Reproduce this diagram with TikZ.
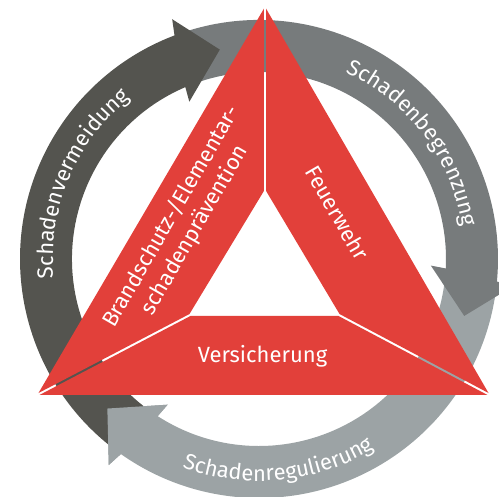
\documentclass[tikz,border=0pt]{standalone}
\usepackage{fontspec}
\setmainfont{Fira Sans}
\usetikzlibrary{calc,decorations.text}
\definecolor{tred}{HTML}{E2403A}
\definecolor{rdark}{HTML}{54544F}
\definecolor{rmid}{HTML}{777B7C}
\definecolor{rlight}{HTML}{9CA3A5}
% #1 colour, #2 start angle, #3 tip angle (arrow runs clockwise)
\newcommand{\ringarrow}[3]{%
  \pgfmathsetmacro{\rAo}{#3+10.1}%
  \pgfmathsetmacro{\rBo}{#3+9.3}%
  \pgfmathsetmacro{\rBi}{#3+13.3}%
  \pgfmathsetmacro{\rAi}{#3+12.6}%
  \fill[#1] (#2:239) arc[start angle=#2, end angle=\rAo, radius=239]
    -- (\rBo:255) -- (#3:213) -- (\rBi:172) -- (\rAi:187)
    arc[start angle=\rAi, end angle=#2, radius=187] -- cycle;}
\newcommand{\ringhead}[2]{%
  \pgfmathsetmacro{\rAo}{#2+10.1}%
  \pgfmathsetmacro{\rBo}{#2+9.3}%
  \pgfmathsetmacro{\rBi}{#2+13.3}%
  \pgfmathsetmacro{\rAi}{#2+12.6}%
  \fill[#1] (\rAo:239) -- (\rBo:255) -- (#2:213) -- (\rBi:172) -- (\rAi:187) -- cycle;}
\newcommand{\ringfont}{\fontsize{22pt}{26pt}\selectfont}
\begin{document}
\begin{tikzpicture}[x=1pt,y=1pt,
  bandtext/.style={text=white, font=\fontsize{22pt}{27pt}\selectfont, align=center, inner sep=0pt},
  ringtext/.style={decorate, decoration={text along path, text color=white, text align=center, text={|\ringfont|#1}}}]
\useasboundingbox (0,0) rectangle (499,497);
\coordinate (C) at (259,238);
\begin{scope}[shift={(C)}]
  \ringarrow{rlight}{-6}{-135.4}
  \ringarrow{rmid}{110.1}{-15.5}
  \ringarrow{rdark}{234.1}{100.6}
  \ringhead{rlight}{-135.4}
  \path[ringtext=Schadenvermeidung] (205:206) arc[start angle=205, end angle=109, radius=206];
  \path[ringtext=Schadenbegrenzung] (85:206) arc[start angle=85, end angle=-11, radius=206];
  \path[ringtext=Schadenregulierung] (228:222) arc[start angle=228, end angle=323.2, radius=222];
\end{scope}
% triangle
\coordinate (T) at (265,490);
\coordinate (BL) at (39,103);
\coordinate (BR) at (488,103);
\coordinate (IT) at (265,306);
\coordinate (IBL) at (190,182);
\coordinate (IBR) at (339,182);
\fill[tred] (263.9,488.3) -- (263.9,306) -- ($(IBL)!1.1pt!-90:(BL)$) -- ($(BL)!1.1pt!90:(IBL)$) -- cycle;
\fill[tred] (266.1,488.3) -- ($(BR)!1.1pt!-90:(IBR)$) -- ($(IBR)!1.1pt!90:(BR)$) -- (266.1,306) -- cycle;
\fill[tred] ($(BL)!1.1pt!-90:(IBL)$) -- ($(IBL)!1.1pt!90:(BL)$) -- ($(IBR)!1.1pt!-90:(BR)$) -- ($(BR)!1.1pt!90:(IBR)$) -- cycle;
\node[bandtext, anchor=base] (vers) at (262.5,134) {Versicherung};
\node[bandtext, rotate=-60] (feuer) at (337.5,284) {Feuerwehr};
\node[bandtext, rotate=60] (brand) at (183,273.5) {Brandschutz-/Elementar-\\schadenprävention};
\end{tikzpicture}
\end{document}
